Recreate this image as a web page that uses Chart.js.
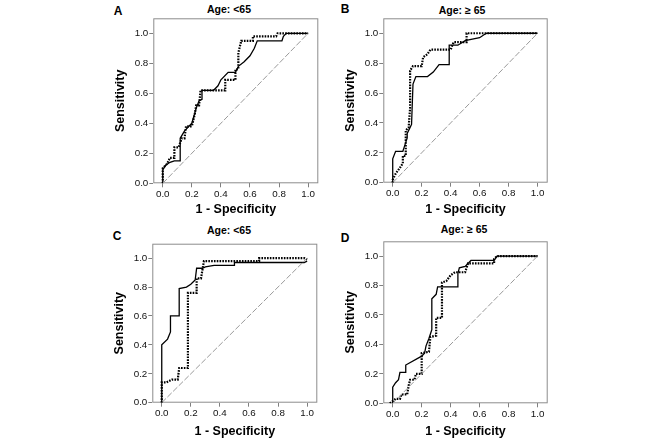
<!DOCTYPE html>
<html>
<head>
<meta charset="utf-8">
<script src="https://cdn.jsdelivr.net/npm/chart.js@4.4.1/dist/chart.umd.min.js"></script>
<style>
body{margin:0;background:#fff;width:661px;height:446px;position:relative;overflow:hidden;font-family:"Liberation Sans",Arial,sans-serif}
canvas{position:absolute}
.letter{position:absolute;font-weight:bold;font-size:12px;line-height:1;color:#000;transform:translate(-50%,-50%)}
.ttl{position:absolute;font-weight:bold;font-size:10.5px;line-height:1;color:#000;transform:translate(-50%,-50%);white-space:nowrap}
</style>
</head>
<body>

<div class="letter" style="left:118px;top:11px">A</div>
<div class="letter" style="left:345px;top:8.5px">B</div>
<div class="letter" style="left:117px;top:235.5px">C</div>
<div class="letter" style="left:345px;top:238px">D</div>

<div class="ttl" style="left:229px;top:9px">Age: &lt;65</div>
<div class="ttl" style="left:462px;top:9.5px">Age: ≥ 65</div>
<div class="ttl" style="left:229px;top:229.5px">Age: &lt;65</div>
<div class="ttl" style="left:464px;top:228.5px">Age: ≥ 65</div>

<canvas id="cA"></canvas>
<canvas id="cB"></canvas>
<canvas id="cC"></canvas>
<canvas id="cD"></canvas>

<script>
const xTicks = [0, 0.2, 0.4, 0.6, 0.8, 1.0]
const yTicks = [0, 0.2, 0.4, 0.6, 0.8, 1.0]
const refX = [0, 1]
const refY = [0, 1]

// panel A
const aSolidX = [0,0,0.02,0.05,0.08,0.12,0.12,0.15,0.2,0.23,0.25,0.27,0.27,0.35,0.38,0.4,0.45,0.5,0.52,0.56,0.6,0.63,0.65,0.82,0.83,0.85,1]
const aSolidY = [0,0.09,0.12,0.14,0.15,0.15,0.3,0.35,0.4,0.5,0.55,0.56,0.62,0.62,0.65,0.69,0.74,0.74,0.78,0.81,0.85,0.9,0.95,0.95,0.98,1,1]
const aDotX = [0,0,0.03,0.05,0.08,0.08,0.11,0.13,0.15,0.16,0.2,0.22,0.23,0.25,0.26,0.43,0.43,0.5,0.5,0.52,0.52,0.54,0.62,0.62,0.78,0.79,1]
const aDotY = [0,0.1,0.13,0.17,0.17,0.24,0.24,0.3,0.3,0.38,0.38,0.46,0.52,0.52,0.62,0.62,0.69,0.69,0.76,0.76,0.87,0.95,0.95,0.98,0.98,1,1]

// panel B
const bSolidX = [0,0,0.02,0.07,0.08,0.1,0.1,0.12,0.13,0.14,0.16,0.24,0.28,0.32,0.39,0.39,0.45,0.5,0.55,0.6,0.63,0.65,1]
const bSolidY = [0,0.16,0.21,0.21,0.24,0.3,0.33,0.37,0.39,0.66,0.71,0.71,0.74,0.79,0.79,0.92,0.92,0.95,0.96,0.97,0.99,1,1]
const bDotX = [0,0,0.02,0.05,0.07,0.07,0.09,0.09,0.11,0.12,0.12,0.14,0.2,0.21,0.24,0.26,0.4,0.42,0.51,0.51,1]
const bDotY = [0,0.02,0.06,0.1,0.13,0.18,0.18,0.35,0.37,0.5,0.75,0.78,0.78,0.84,0.86,0.89,0.89,0.94,0.94,1,1]

// panel C
const cSolidX = [0,0,0.04,0.06,0.06,0.12,0.12,0.17,0.2,0.23,0.24,0.28,0.3,0.36,0.5,0.5,0.98,1]
const cSolidY = [0,0.4,0.44,0.49,0.6,0.6,0.79,0.8,0.82,0.85,0.93,0.93,0.94,0.95,0.95,0.97,0.97,0.98]
const cDotX = [0,0,0.03,0.07,0.11,0.12,0.18,0.18,0.24,0.24,0.27,0.29,0.67,0.67,0.98,1]
const cDotY = [0,0.14,0.14,0.16,0.16,0.24,0.24,0.76,0.76,0.86,0.86,0.98,0.98,1,1,0.99]

// panel D
const dSolidX = [0,0,0.02,0.04,0.05,0.09,0.09,0.2,0.22,0.23,0.25,0.27,0.27,0.3,0.31,0.45,0.45,0.46,0.5,0.54,0.7,0.72,1]
const dSolidY = [0,0.11,0.14,0.16,0.21,0.21,0.26,0.32,0.34,0.39,0.44,0.5,0.71,0.74,0.79,0.79,0.88,0.92,0.93,0.97,0.97,1,1]
const dDotX = [-0.02,0.02,0.05,0.06,0.1,0.11,0.12,0.15,0.16,0.2,0.2,0.25,0.26,0.3,0.3,0.34,0.34,0.37,0.4,0.43,0.5,0.52,0.7,0.7,0.72,1]
const dDotY = [0,0.03,0.03,0.06,0.06,0.12,0.16,0.16,0.2,0.2,0.34,0.35,0.45,0.46,0.58,0.58,0.82,0.83,0.87,0.89,0.89,0.95,0.95,0.98,1,1]

const FONT = '"Liberation Sans", Arial, sans-serif'

function pts(xs, ys){
  return xs.map((x,i)=>({x:x, y:ys[i]}))
}

// frame around the plot area
const boxPlugin = {
  id:'box',
  beforeDatasetsDraw(chart){
    const a = chart.chartArea, c = chart.ctx
    c.save()
    c.strokeStyle = '#8c8c8c'
    c.lineWidth = 1
    c.strokeRect(a.left+0.5, a.top+0.5, a.right-a.left-1, a.bottom-a.top-1)
    c.restore()
  }
}

function panel(id, g, solidX, solidY, dotX, dotY){

const cv = document.getElementById(id)
const cLeft = g.left - 43.3
const cW = Math.ceil(g.right - cLeft) + 4
const cH = 222
cv.width = cW
cv.height = cH
cv.style.left = cLeft + 'px'
cv.style.top = g.cTop + 'px'
cv.style.width = cW + 'px'
cv.style.height = cH + 'px'

const yW = g.left - cLeft
const xH = g.cTop + cH - g.bottom

new Chart(cv, {
type:'scatter',
data:{
datasets:[
{
data: pts(refX, refY),
showLine:true,
borderColor:'#9a9a9a',
borderWidth:1,
borderDash:[6,2],
pointRadius:0
},
{
data: pts(dotX, dotY),
showLine:true,
borderColor:'#000',
borderWidth:2.2,
borderDash:[1.6,1.2],
pointRadius:0
},
{
data: pts(solidX, solidY),
showLine:true,
borderColor:'#000',
borderWidth:1.3,
pointRadius:0
}
]
},
options:{
responsive:false,
animation:false,
devicePixelRatio:1,
layout:{padding:{top: g.top - g.cTop, right: cW - (g.right - cLeft), left:0, bottom:0}},
plugins:{legend:{display:false}, tooltip:{enabled:false}, title:{display:false}},
scales:{
x:{
type:'linear', min:-0.065, max:1.07,
afterBuildTicks: s => { s.ticks = xTicks.map(v=>({value:v})) },
afterFit: s => { s.height = xH },
ticks:{callback:v=>v.toFixed(1), font:{size:9.8, family:FONT}, color:'#111', padding:1, maxRotation:0, autoSkip:false},
grid:{drawOnChartArea:false, tickLength:4, color:'#808080'},
border:{display:false},
title:{display:true, text:'1 - Specificity', font:{size:12.5, weight:'bold', family:FONT}, color:'#000', padding:{top:0, bottom:4.5}}
},
y:{
type:'linear', min:0, max:1.1,
afterBuildTicks: s => { s.ticks = yTicks.map(v=>({value:v})) },
afterFit: s => { s.width = yW },
ticks:{callback:v=>v.toFixed(1), font:{size:9.8, family:FONT}, color:'#111', padding:1, autoSkip:false},
grid:{drawOnChartArea:false, tickLength:4, color:'#808080'},
border:{display:false},
title:{display:true, text:'Sensitivity', font:{size:12.5, weight:'bold', family:FONT}, color:'#000', padding:{top:3, bottom:0}}
}
}
},
plugins:[boxPlugin]
})

}

panel('cA', {left:153.3, right:318.3, top:18.3, bottom:183.3, cTop:0}, aSolidX, aSolidY, aDotX, aDotY)
panel('cB', {left:383.3, right:547.7, top:18.3, bottom:182.7, cTop:0}, bSolidX, bSolidY, bDotX, bDotY)
panel('cC', {left:152.7, right:317.7, top:243.7, bottom:402.7, cTop:222}, cSolidX, cSolidY, cDotX, cDotY)
panel('cD', {left:383.3, right:547.7, top:241.3, bottom:403.3, cTop:222}, dSolidX, dSolidY, dDotX, dDotY)
</script>
</body>
</html>
